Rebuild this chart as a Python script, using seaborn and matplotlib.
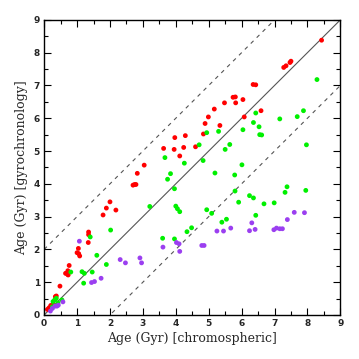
import numpy as np
import pandas as pd
import matplotlib
matplotlib.use("Agg")
import matplotlib.pyplot as plt
from matplotlib.ticker import MultipleLocator
import seaborn as sns

red_x = [0.10,0.15,0.20,0.27,0.34,0.37,0.48,0.65,0.71,0.72,0.73,0.76,1.00,1.04,1.05,1.08,1.35,1.35,1.34,1.79,1.89,2.00,2.18,2.70,2.75,2.79,2.83,3.04,3.63,3.95,3.97,4.24,4.60,4.12,4.29,4.84,4.89,4.99,5.17,5.34,5.48,5.74,5.81,5.82,6.04,6.08,6.35,6.43,6.59,7.28,7.35,7.47,7.50,8.43]
red_y = [0.17,0.22,0.29,0.32,0.56,0.58,0.88,1.27,1.24,1.35,1.22,1.51,1.90,2.03,1.87,1.80,2.53,2.45,2.21,3.05,3.26,3.45,3.20,3.96,3.98,3.98,4.32,4.57,5.08,5.05,5.41,5.11,5.13,4.85,5.47,5.52,5.84,6.04,6.28,5.78,6.47,6.64,6.65,6.47,6.57,6.04,7.03,7.02,6.23,7.55,7.60,7.70,7.74,8.38]

green_x = [0.25,0.27,0.32,0.37,0.42,0.54,0.81,1.15,1.20,1.22,1.40,1.46,1.60,1.89,2.02,3.21,3.60,3.96,3.96,4.00,4.05,4.12,3.67,3.75,3.84,4.26,4.34,4.48,4.71,4.83,4.94,5.09,5.19,5.30,4.94,5.40,5.54,5.50,5.64,5.79,5.80,5.91,6.01,6.04,6.24,6.36,6.36,6.43,6.43,6.53,6.55,6.61,6.68,6.99,7.16,7.32,7.38,7.69,7.88,7.95,7.97,8.29]
green_y = [0.25,0.41,0.46,0.51,0.37,0.46,1.31,1.32,0.97,1.27,2.38,1.31,1.82,1.54,2.59,3.31,2.34,2.32,3.85,3.32,3.24,3.15,4.80,4.14,4.31,4.63,2.54,2.66,5.19,4.71,3.21,3.10,4.33,5.60,5.56,2.83,2.92,5.05,5.20,4.27,3.78,3.44,4.58,5.65,3.64,3.57,5.87,6.16,3.04,5.74,5.50,5.49,3.39,3.42,5.98,3.74,3.91,6.05,6.23,3.80,5.19,7.18]

purple_x = [0.19,0.25,0.33,0.39,0.43,0.57,1.07,1.44,1.53,1.73,2.31,2.47,2.91,2.96,3.61,4.02,4.10,4.12,4.79,4.86,5.25,5.45,5.67,6.24,6.31,6.41,6.98,7.06,7.16,7.24,7.39,7.60,7.91]
purple_y = [0.12,0.20,0.27,0.27,0.30,0.40,2.25,0.99,1.02,1.12,1.69,1.59,1.74,1.59,2.07,2.21,2.17,1.94,2.12,2.12,2.56,2.56,2.65,2.57,2.81,2.61,2.60,2.65,2.63,2.63,2.91,3.13,3.12]

line_x = [0, 9]
offsets = [0, 2, -2]

df = pd.DataFrame({
    "x": red_x + green_x + purple_x,
    "y": red_y + green_y + purple_y,
    "group": ["red"] * len(red_x) + ["green"] * len(green_x) + ["purple"] * len(purple_x),
})

sns.set_style("ticks")
plt.rcParams["font.family"] = ["DejaVu Serif"]

fig = plt.figure(figsize=(3.59, 3.59), dpi=100)
ax = fig.add_axes([0.123, 0.1226, 0.825, 0.822])

for off in offsets:
    ls = "-" if off == 0 else (0, (3.5, 4))
    ax.plot(line_x, [v + off for v in line_x], color="#555555", lw=0.8, ls=ls, zorder=1)

sns.scatterplot(data=df, x="x", y="y", hue="group",
                palette={"red": "#ff0000", "green": "#00f000", "purple": "#9b3ff0"},
                s=12, linewidth=0, legend=False, ax=ax, zorder=2)

ax.set_xlim(0, 9)
ax.set_ylim(0, 9)
ax.xaxis.set_major_locator(MultipleLocator(1))
ax.yaxis.set_major_locator(MultipleLocator(1))
ax.xaxis.set_minor_locator(MultipleLocator(0.5))
ax.yaxis.set_minor_locator(MultipleLocator(0.5))
ax.tick_params(which="both", direction="in", top=True, right=True, width=0.8, color="black")
ax.tick_params(which="major", length=5, labelsize=6.5, pad=3)
ax.tick_params(which="minor", length=3)
for lab in ax.get_xticklabels() + ax.get_yticklabels():
    lab.set_fontfamily("DejaVu Sans")
    lab.set_fontweight("bold")
for sp in ax.spines.values():
    sp.set_linewidth(1.0)
    sp.set_color("black")

ax.set_xlabel("Age (Gyr) [chromospheric]", fontsize=9, labelpad=3)
ax.set_ylabel("Age (Gyr) [gyrochronology]", fontsize=9, labelpad=4)

fig.savefig("out.png", dpi=100)
